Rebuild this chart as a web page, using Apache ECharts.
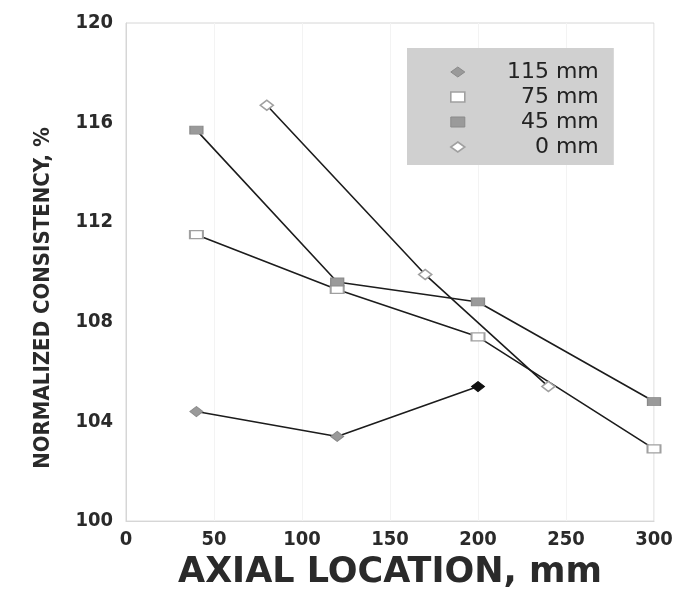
<!DOCTYPE html>
<html>
<head>
<meta charset="utf-8">
<script src="https://cdn.jsdelivr.net/npm/echarts@6/dist/echarts.min.js"></script>
<style>html,body{margin:0;padding:0;background:#fff}#c{width:677px;height:595px}</style>
</head>
<body>
<div id="c"></div>
<script>
var seriesNames = ['115 mm', '75 mm', '45 mm', '0 mm'];
var x115 = [40, 120, 200];
var y115 = [104.4, 103.4, 105.4];
var x75 = [40, 120, 200, 300];
var y75 = [111.5, 109.3, 107.4, 102.9];
var x45 = [40, 120, 200, 300];
var y45 = [115.7, 109.6, 108.8, 104.8];
var x0 = [80, 170, 240];
var y0 = [116.7, 109.9, 105.4];
var xTicks = [0, 50, 100, 150, 200, 250, 300];
var yTicks = [100, 104, 108, 112, 116, 120];

function pairs(xs, ys) { return xs.map(function (x, i) { return [x, ys[i]]; }); }

var numFont = '"Liberation Sans Narrow", "DejaVu Sans Condensed", sans-serif';
var filledGray = { color: '#9a9a9a', borderColor: '#8a8a8a', borderWidth: 1 };
var openGray = { color: '#ffffff', borderColor: '#a0a0a0', borderWidth: 1.6 };
var lineStyle = { color: '#1c1c1c', width: 1.6 };

var d115 = pairs(x115, y115);
d115[d115.length - 1] = { value: d115[d115.length - 1], itemStyle: { color: '#111', borderColor: '#111' } };

var chart = echarts.init(document.getElementById('c'), null, { renderer: 'canvas' });
chart.setOption({
  animation: false,
  backgroundColor: '#ffffff',
  grid: { left: 126, right: 23, top: 23, bottom: 73, show: true, borderColor: '#d6d6d6', borderWidth: 1 },
  legend: {
    orient: 'vertical', left: 407, top: 48,
    backgroundColor: '#d0d0d0',
    padding: [13, 15, 7, 43],
    itemWidth: 14, itemHeight: 10, itemGap: 3,
    formatter: function (n) { return '{t|' + n + '}'; },
    textStyle: {
      fontFamily: '"DejaVu Sans", sans-serif', fontSize: 22, color: '#222',
      rich: { t: { width: 129, align: 'right', fontFamily: '"DejaVu Sans", sans-serif', fontSize: 22, lineHeight: 24, color: '#222' } }
    },
    data: [
      { name: seriesNames[0], icon: 'diamond', itemStyle: filledGray },
      { name: seriesNames[1], icon: 'rect', itemStyle: openGray },
      { name: seriesNames[2], icon: 'rect', itemStyle: filledGray },
      { name: seriesNames[3], icon: 'diamond', itemStyle: openGray }
    ]
  },
  xAxis: {
    type: 'value', min: 0, max: 300, interval: 50,
    name: 'AXIAL LOCATION, mm', nameLocation: 'middle', nameGap: 27,
    nameTextStyle: { fontFamily: '"DejaVu Sans", sans-serif', fontWeight: 'bold', fontSize: 35, color: '#2a2a2a' },
    axisLine: { show: true, lineStyle: { color: '#d6d6d6' } },
    axisTick: { show: false },
    splitLine: { show: true, lineStyle: { color: '#f3f3f3' } },
    axisLabel: {
      margin: 9, fontFamily: numFont, fontWeight: 'bold', fontSize: 20, color: '#2a2a2a',
      formatter: function (v) { return xTicks.indexOf(v) >= 0 ? String(v) : ''; }
    }
  },
  yAxis: {
    type: 'value', min: 100, max: 120, interval: 4,
    name: 'NORMALIZED CONSISTENCY, %', nameLocation: 'middle', nameGap: 72, nameRotate: 90,
    nameTextStyle: { fontFamily: numFont, fontWeight: 'bold', fontSize: 22, color: '#2a2a2a', padding: [0, 52, 0, 0] },
    axisLine: { show: true, lineStyle: { color: '#d6d6d6' } },
    axisTick: { show: false },
    splitLine: { show: false },
    axisLabel: {
      margin: 13, fontFamily: numFont, fontWeight: 'bold', fontSize: 20, color: '#2a2a2a',
      formatter: function (v) { return yTicks.indexOf(v) >= 0 ? String(v) : ''; }
    }
  },
  series: [
    { name: seriesNames[0], type: 'line', data: d115, symbol: 'diamond', symbolSize: [13, 10], itemStyle: filledGray, lineStyle: lineStyle, z: 3 },
    { name: seriesNames[1], type: 'line', data: pairs(x75, y75), symbol: 'rect', symbolSize: [13, 8], itemStyle: openGray, lineStyle: lineStyle, z: 3 },
    { name: seriesNames[2], type: 'line', data: pairs(x45, y45), symbol: 'rect', symbolSize: [13, 8], itemStyle: filledGray, lineStyle: lineStyle, z: 4 },
    { name: seriesNames[3], type: 'line', data: pairs(x0, y0), symbol: 'diamond', symbolSize: [13, 10], itemStyle: openGray, lineStyle: lineStyle, z: 3 }
  ]
});
</script>
</body>
</html>
